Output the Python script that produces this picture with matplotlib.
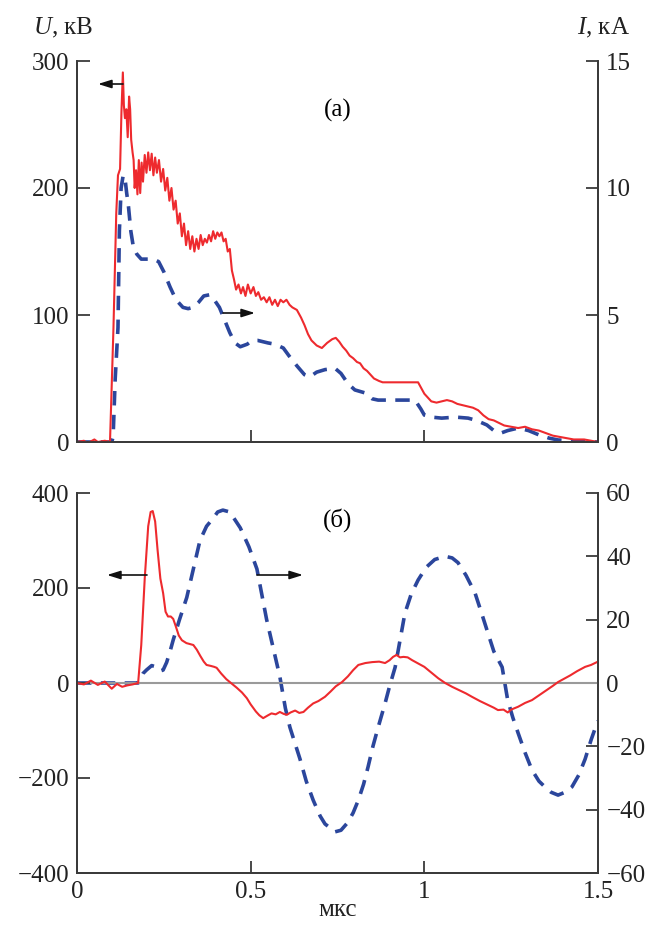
import matplotlib
matplotlib.use("Agg")
import matplotlib.pyplot as plt
import numpy as np

plt.rcParams["font.family"] = ["Liberation Serif", "DejaVu Serif"]
plt.rcParams["mathtext.fontset"] = "custom"
plt.rcParams["mathtext.rm"] = "Liberation Serif"
plt.rcParams["mathtext.it"] = "Liberation Serif:italic"

RED = "#ee2a2e"
BLUE = "#2b469c"
AXC = "#3a3a3a"
FS = 18

# (a) voltage, kV
t_u_a = [0.0, 0.02, 0.03, 0.05, 0.06, 0.08, 0.095, 0.105, 0.113, 0.118, 0.124, 0.128, 0.132,
         0.135, 0.138, 0.142, 0.146, 0.150, 0.153, 0.156, 0.160, 0.163, 0.166, 0.170, 0.174,
         0.178, 0.182, 0.186, 0.190, 0.195, 0.200, 0.205, 0.210, 0.215, 0.220, 0.225, 0.230,
         0.236, 0.242, 0.248, 0.254, 0.260, 0.266, 0.272, 0.278, 0.284, 0.290, 0.296, 0.302,
         0.308, 0.314, 0.320, 0.326, 0.332, 0.338, 0.344, 0.350, 0.356, 0.362, 0.368, 0.374,
         0.380, 0.386, 0.392, 0.398, 0.404, 0.410, 0.416, 0.422, 0.428, 0.434, 0.440, 0.446,
         0.452, 0.458, 0.465, 0.472, 0.478, 0.485, 0.492, 0.500, 0.508, 0.515, 0.522, 0.530,
         0.538, 0.546, 0.554, 0.562, 0.570, 0.578, 0.586, 0.594, 0.603, 0.612, 0.620, 0.633,
         0.645, 0.655, 0.665, 0.675, 0.690, 0.705, 0.720, 0.735, 0.745, 0.755, 0.765, 0.775,
         0.785, 0.795, 0.806, 0.815, 0.825, 0.835, 0.845, 0.855, 0.870, 0.880, 0.982, 0.990,
         1.000, 1.010, 1.020, 1.035, 1.050, 1.065, 1.080, 1.095, 1.110, 1.125, 1.140, 1.155,
         1.170, 1.185, 1.200, 1.215, 1.230, 1.250, 1.270, 1.290, 1.310, 1.330, 1.350, 1.370,
         1.390, 1.410, 1.430, 1.460, 1.480, 1.500]
u_a = [0, 1, -1, 2, 0, 1, 0, 90, 180, 210, 215, 260, 291,
       265, 255, 262, 240, 272, 262, 238, 228, 222, 200, 214, 195,
       222, 196, 220, 205, 226, 212, 228, 214, 227, 210, 224, 212,
       222, 205, 215, 198, 208, 190, 200, 183, 190, 172, 180, 162,
       172, 155, 166, 152, 162, 150, 160, 152, 163, 155, 160, 157,
       163, 158, 166, 160, 165, 162, 165, 158, 160, 150, 152, 135,
       128, 120, 124, 117, 122, 115, 124, 117, 122, 115, 118, 112,
       114, 110, 114, 108, 112, 107, 112, 110, 112, 108, 106, 104,
       98, 92, 85, 80, 76, 74, 78, 81, 82, 79, 75, 72,
       68, 66, 63, 62, 58, 56, 53, 50, 48, 47, 47, 43,
       38, 35, 32, 31, 32, 33, 32, 30, 29, 28, 27, 25,
       21, 18, 17, 15, 13, 12, 11, 12, 10, 9, 7, 5,
       4, 3, 2, 2, 1, 0]

# (a) current, kA
t_i_a = [0.0, 0.100, 0.104, 0.110, 0.118, 0.122, 0.127, 0.133, 0.138, 0.143, 0.148, 0.155,
         0.162, 0.172, 0.185, 0.200, 0.220, 0.235, 0.250, 0.268, 0.285, 0.305, 0.320, 0.334,
         0.350, 0.365, 0.383, 0.395, 0.410, 0.425, 0.440, 0.455, 0.470, 0.490, 0.505, 0.520,
         0.535, 0.550, 0.570, 0.594, 0.610, 0.633, 0.655, 0.670, 0.690, 0.714, 0.743, 0.760,
         0.780, 0.800, 0.830, 0.850, 0.867, 0.973, 0.990, 1.000, 1.020, 1.050, 1.090, 1.126,
         1.150, 1.180, 1.200, 1.220, 1.240, 1.270, 1.300, 1.330, 1.360, 1.385, 1.420, 1.500]
i_a = [0, 0, 0.2, 2.5, 4.5, 8.3, 10.0, 10.5, 10.4, 9.8, 9.3, 8.3,
       7.7, 7.4, 7.2, 7.2, 7.2, 7.1, 6.7, 6.1, 5.6, 5.3, 5.25, 5.3,
       5.5, 5.75, 5.8, 5.6, 5.3, 4.8, 4.3, 3.9, 3.75, 3.85, 4.0, 4.0,
       3.95, 3.9, 3.85, 3.7, 3.4, 3.0, 2.65, 2.56, 2.75, 2.85, 2.9, 2.7,
       2.3, 2.05, 1.93, 1.7, 1.65, 1.65, 1.3, 1.06, 0.98, 0.94, 0.98, 0.94,
       0.85, 0.67, 0.45, 0.35, 0.45, 0.55, 0.45, 0.28, 0.15, 0.08, 0.05, 0]

# (б) voltage, kV
t_u_b = [0.0, 0.02, 0.04, 0.06, 0.08, 0.10, 0.115, 0.13, 0.145, 0.16, 0.176, 0.185, 0.195,
         0.205, 0.212, 0.218, 0.225, 0.232, 0.240, 0.248, 0.255, 0.262, 0.270, 0.277, 0.285,
         0.293, 0.302, 0.315, 0.325, 0.335, 0.345, 0.355, 0.365, 0.373, 0.385, 0.395, 0.402,
         0.415, 0.430, 0.440, 0.460, 0.475, 0.489, 0.500, 0.515, 0.525, 0.536, 0.550, 0.560,
         0.572, 0.584, 0.595, 0.604, 0.615, 0.628, 0.640, 0.652, 0.665, 0.680, 0.695, 0.714,
         0.730, 0.745, 0.763, 0.780, 0.795, 0.810, 0.830, 0.850, 0.870, 0.887, 0.900, 0.910,
         0.920, 0.930, 0.940, 0.952, 0.965, 0.980, 1.000, 1.020, 1.040, 1.060, 1.080, 1.100,
         1.120, 1.137, 1.160, 1.180, 1.200, 1.212, 1.228, 1.240, 1.250, 1.270, 1.290, 1.310,
         1.330, 1.350, 1.370, 1.385, 1.400, 1.420, 1.440, 1.463, 1.480, 1.497, 1.500]
u_b = [0, -3, 5, -4, 3, -12, -2, -8, -5, -3, 0, 80, 220,
       330, 360, 362, 340, 280, 220, 189, 150, 140, 140, 135, 118,
       100, 90, 84, 82, 80, 70, 57, 45, 38, 36, 34, 32,
       20, 8, 2, -10, -20, -32, -45, -60, -68, -74, -68, -64,
       -66, -61, -65, -67, -62, -58, -63, -61, -52, -43, -38, -29,
       -18, -7, 2, 14, 27, 38, 42, 44, 45, 42, 48, 55,
       59, 54, 55, 54, 48, 42, 34, 22, 10, 0, -8, -15,
       -22, -29, -38, -45, -52, -57, -56, -62, -56, -50, -42, -36,
       -26, -16, -6, 2, 8, 16, 25, 34, 38, 44, 45]

# (б) current, kA
t_i_b = [0.0, 0.176, 0.190, 0.200, 0.215, 0.230, 0.240, 0.248, 0.258, 0.268, 0.277, 0.295,
         0.316, 0.335, 0.354, 0.373, 0.392, 0.405, 0.420, 0.440, 0.455, 0.470, 0.495, 0.518,
         0.532, 0.546, 0.565, 0.584, 0.600, 0.613, 0.642, 0.660, 0.680, 0.700, 0.714, 0.743,
         0.760, 0.780, 0.795, 0.810, 0.825, 0.838, 0.852, 0.867, 0.887, 0.900, 0.916, 0.930,
         0.944, 0.962, 0.982, 1.005, 1.030, 1.060, 1.080, 1.097, 1.120, 1.146, 1.165, 1.183,
         1.200, 1.224, 1.240, 1.255, 1.270, 1.290, 1.310, 1.330, 1.347, 1.365, 1.385, 1.405,
         1.425, 1.445, 1.463, 1.480, 1.497, 1.500]
i_b = [0, 0, 3, 4.1, 5.5, 5.0, 3.8, 4.1, 6.5, 10, 13.6, 20,
       27, 36, 45, 49.5, 52, 54, 54.6, 54, 51.5, 49, 43, 36,
       28, 20, 11, 2, -8, -14, -24, -31, -37, -42, -44.5, -47,
       -46.5, -44, -41, -37, -32, -26.5, -20, -14, -6.4, -1, 5, 13.5,
       22, 28, 32.5, 36.5, 39, 40, 39.5, 38, 34, 28.4, 22, 15.8,
       10, 5, -5.4, -11, -15.8, -22, -27.5, -31, -32.8, -34.5, -35.4, -34.5,
       -32.8, -29, -24, -18, -12.7, -12]

x_ticks = [0, 0.5, 1, 1.5]
x_labels = ["0", "0.5", "1", "1.5"]


def style(ax, twin):
    for a in (ax, twin):
        a.spines["top"].set_visible(False)
        for s in ("left", "right", "bottom"):
            a.spines[s].set_color(AXC)
            a.spines[s].set_linewidth(1.3)
        a.tick_params(direction="in", length=9, width=1.3, color=AXC,
                      labelsize=FS, labelcolor="#222222")
    ax.tick_params(axis="y", pad=5.5)
    twin.tick_params(axis="y", pad=6)
    ax.tick_params(axis="x", pad=6)
    ax.set_zorder(twin.get_zorder() + 1)
    ax.patch.set_visible(False)
    ax.set_xlim(0, 1.5)
    ax.set_xticks(x_ticks)


def arrow(ax, x0, x1, y):
    ax.annotate("", xy=(x1, y), xytext=(x0, y), xycoords="figure pixels",
                arrowprops=dict(arrowstyle="-|>,head_length=0.8,head_width=0.25",
                                color="#111111", lw=1.2, shrinkA=0, shrinkB=0))


fig = plt.figure(figsize=(6.5, 9.26), dpi=100)
H = 926

ax1 = fig.add_axes([77 / 650, 1 - 442 / H, 521 / 650, 381 / H])
tw1 = ax1.twinx()
style(ax1, tw1)
tw1.plot(t_i_a, i_a, color=BLUE, lw=2.6, ls=(0, (4, 2.6)))
ax1.plot(t_u_a, u_a, color=RED, lw=1.5)
ax1.set_ylim(0, 300)
ax1.set_yticks([0, 100, 200, 300])
tw1.set_ylim(0, 15)
tw1.set_yticks([0, 5, 10, 15])
ax1.tick_params(axis="x", labelbottom=False)
ax1.text(0.5, 0.87, "(а)", transform=ax1.transAxes, fontsize=FS, ha="center", va="center")

ax2 = fig.add_axes([77 / 650, 1 - 873 / H, 521 / 650, 380 / H])
tw2 = ax2.twinx()
style(ax2, tw2)
ax2.axhline(0, color="#9a9a9a", lw=1.5, zorder=0)
tw2.plot(t_i_b, i_b, color=BLUE, lw=2.6, ls=(0, (4, 2.6)))
ax2.plot(t_u_b, u_b, color=RED, lw=1.5)
ax2.set_ylim(-400, 400)
ax2.set_yticks([-400, -200, 0, 200, 400])
ax2.set_yticklabels(["\u2212400", "\u2212200", "0", "200", "400"])
tw2.set_ylim(-60, 60)
tw2.set_yticks([-60, -40, -20, 0, 20, 40, 60])
tw2.set_yticklabels(["\u221260", "\u221240", "\u221220", "0", "20", "40", "60"])
ax2.set_xticklabels(x_labels)
ax2.text(0.5, 0.93, "(б)", transform=ax2.transAxes, fontsize=FS, ha="center", va="center")

arrow(ax1, 123, 98, H - 84)
arrow(ax1, 223, 255, H - 313)
arrow(ax2, 147, 107, H - 575)
arrow(ax2, 257, 303, H - 575)

fig.text(33 / 650, 1 - 28 / H, "$U$, кВ", fontsize=FS, ha="left", va="center", color="#222222")
fig.text(630 / 650, 1 - 28 / H, "$I$, кА", fontsize=FS, ha="right", va="center", color="#222222")
fig.text(338 / 650, 1 - 910 / H, "мкс", fontsize=FS, ha="center", va="center", color="#222222")

fig.savefig("out.png", dpi=100)
